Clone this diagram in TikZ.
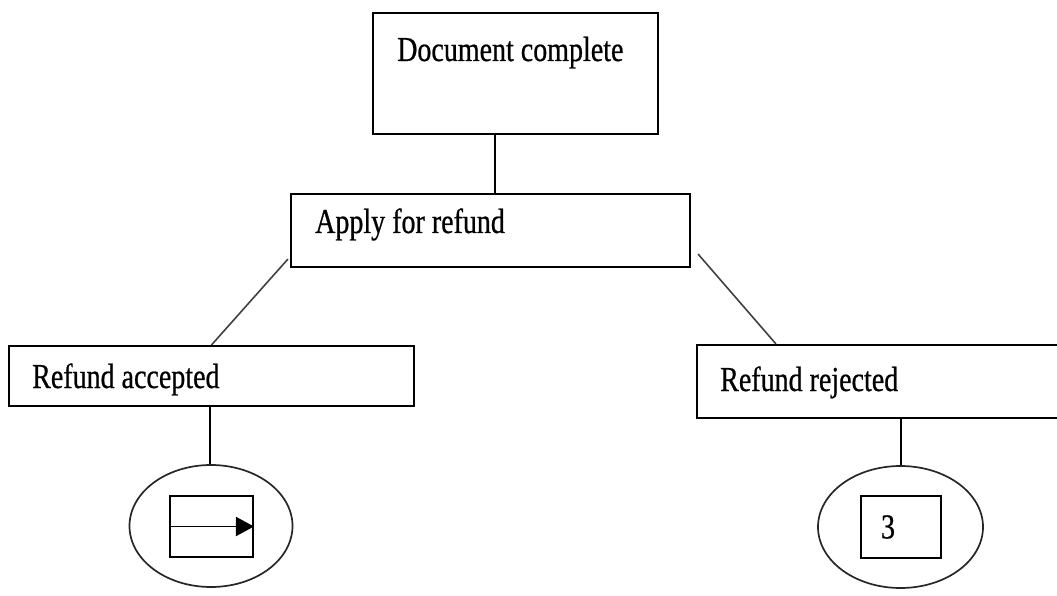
\documentclass[tikz,border=0pt]{standalone}
\usepackage{fontspec}
\usetikzlibrary{shapes.geometric,arrows.meta}
\newfontfamily\lblfont[FakeStretch=0.8, FakeBold=0.6]{Liberation Serif}

\tikzset{
  box/.style={draw=black, line width=2.1pt, rectangle, inner sep=0pt},
  lbl/.style={anchor=base west, inner sep=0pt, font=\lblfont\fontsize{35}{40}\selectfont},
  oval/.style={draw=black!85, line width=1.7pt, ellipse, inner sep=0pt},
  link/.style={draw=black, line width=1.9pt},
  slant/.style={draw=black!75, line width=1.6pt},
  icon/.style={draw=black, line width=1.9pt, rectangle, inner sep=0pt}
}

\begin{document}
\begin{tikzpicture}[x=1pt, y=-1pt]
  \useasboundingbox (0,0) rectangle (1057,596);
  \clip (0,0) rectangle (1057,596);

  % process boxes
  \node[box, minimum width=285, minimum height=121] (doc) at (515.5,73.5) {};
  \node[lbl] (doctext) at (397,61) {Document complete};

  \node[box, minimum width=399, minimum height=73] (apply) at (490.5,230.5) {};
  \node[lbl] (applytext) at (315,233) {Apply for refund};

  \node[box, minimum width=405, minimum height=60] (acc) at (211.5,376) {};
  \node[lbl] (acctext) at (32,388) {Refund accepted};

  \node[box, minimum width=380, minimum height=73] (rej) at (887,381.5) {};
  \node[lbl] (rejtext) at (720,391) {Refund rejected};

  % end symbols
  \node[oval, minimum width=163, minimum height=122] (endL) at (211,526) {};
  \node[icon, minimum width=83, minimum height=61] (goL) at (211.5,526.5) {};

  \node[oval, minimum width=165, minimum height=122] (endR) at (900.5,527) {};
  \node[icon, minimum width=80, minimum height=62] (goR) at (901,527) {};
  \node[lbl, anchor=center] (goRnum) at (888,527) {3};

  % connectors
  \draw[link] ([xshift=4.5pt]apply.north) -- ([xshift=4.5pt]apply.north |- doc.south);
  \draw[slant] ([xshift=-2pt, yshift=9pt]apply.south west) -- (acc.north);
  \draw[slant] ([xshift=7pt, yshift=14pt]apply.south east) -- ([xshift=80pt]rej.north west);
  \draw[link] ([xshift=-1.5pt]acc.south) -- ([xshift=-1.5pt]acc.south |- endL.north);
  \draw[link] ([xshift=0.5pt]endR.north |- rej.south) -- ([xshift=0.5pt]endR.north);

  % arrow across the left symbol
  \draw[link, -{Triangle[length=18pt, width=19pt]}] (goL.west) -- (goL.east);
\end{tikzpicture}
\end{document}
